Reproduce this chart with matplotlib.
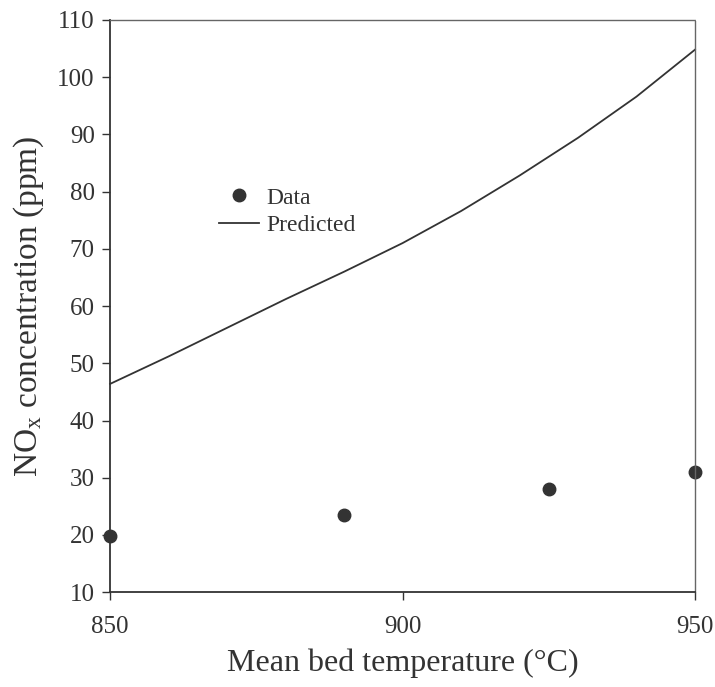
import matplotlib
matplotlib.use('Agg')
from matplotlib import pyplot as plt

plt.rcParams['font.family'] = ['Liberation Serif', 'DejaVu Serif']
plt.rcParams['mathtext.fontset'] = 'custom'
plt.rcParams['mathtext.rm'] = 'Liberation Serif'
plt.rcParams['mathtext.it'] = 'Liberation Serif:italic'

# Data
data_temp = [850, 890, 925, 950]
data_nox = [19.8, 23.5, 28.0, 31.0]

pred_temp = [850, 860, 870, 880, 890, 900, 910, 920, 930, 940, 950]
pred_nox = [46.4, 51.2, 56.2, 61.2, 66.0, 71.0, 76.6, 82.8, 89.4, 96.6, 104.8]

x_ticks = [850, 900, 950]
y_ticks = [10, 20, 30, 40, 50, 60, 70, 80, 90, 100, 110]

ink = '#333333'

fig = plt.figure(figsize=(7.15, 6.87), dpi=100)
ax = fig.add_axes([0.154, 0.138, 0.818, 0.833])

ax.plot(pred_temp, pred_nox, color=ink, lw=1.3, label='Predicted', clip_on=False)
ax.plot(data_temp, data_nox, 'o', color=ink, ms=9, label='Data', clip_on=False,
        linestyle='none')

ax.set_xlim(850, 950)
ax.set_ylim(10, 110)
ax.set_xticks(x_ticks)
ax.set_yticks(y_ticks)
ax.tick_params(direction='out', length=6, width=1, color=ink, labelcolor=ink,
               labelsize=18, pad=5)
ax.tick_params(axis='x', pad=11)

for side in ['left', 'bottom']:
    ax.spines[side].set_color(ink)
    ax.spines[side].set_linewidth(1.3)
for side in ['top', 'right']:
    ax.spines[side].set_color('#666666')
    ax.spines[side].set_linewidth(1.0)
    ax.spines[side].set_linestyle((0, (1, 1)))

ax.set_xlabel('Mean bed temperature (°C)', fontsize=23, color=ink, labelpad=8)
ax.set_ylabel(r'NO$_\mathrm{x}$ concentration (ppm)', fontsize=24, color=ink, labelpad=8)

handles, labels = ax.get_legend_handles_labels()
ax.legend(handles[::-1], labels[::-1], loc='upper left', bbox_to_anchor=(0.15, 0.745),
          frameon=False, fontsize=17, handlelength=1.7, handletextpad=0.3,
          labelspacing=0.25, labelcolor=ink)

fig.savefig('out.png', dpi=100)
